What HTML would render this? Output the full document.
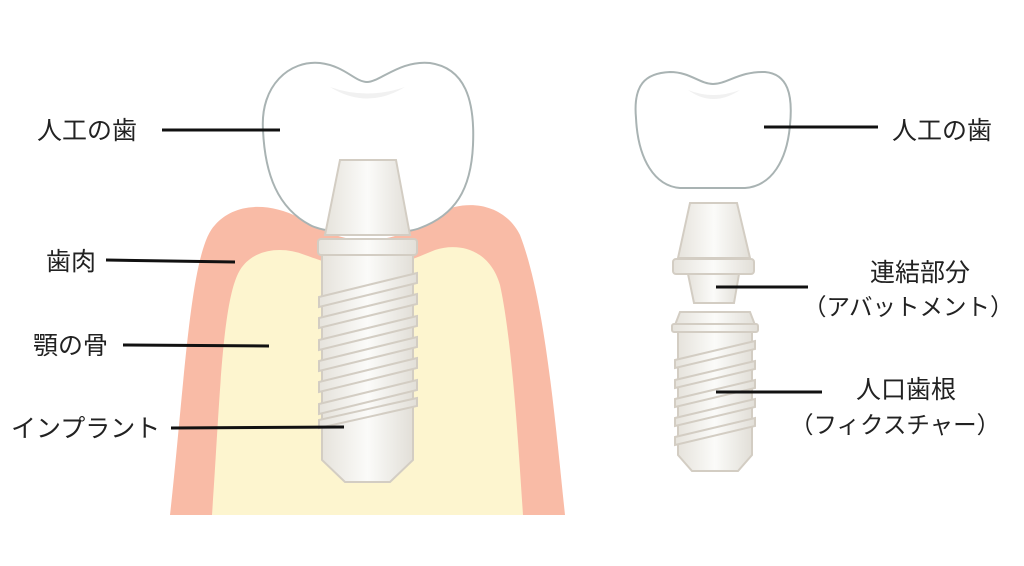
<!DOCTYPE html>
<html><head><meta charset="utf-8"><style>
html,body{margin:0;padding:0;background:#fff;}
svg{display:block;}
text{font-family:"Liberation Sans","Noto Sans CJK JP",sans-serif;font-size:25px;fill:#222;}
text.s{font-size:23.5px;}
</style></head><body>
<svg width="1024" height="566" viewBox="0 0 1024 566" xmlns="http://www.w3.org/2000/svg">
<defs>
<linearGradient id="m" x1="0" x2="1" y1="0" y2="0">
<stop offset="0" stop-color="#e6e3dc"/><stop offset="0.5" stop-color="#fbfbf9"/><stop offset="1" stop-color="#e2dfd8"/>
</linearGradient>
</defs>
<path d="M170 515 C185 380 190 250 215 225 C232 205 265 200 300 218 C320 228 335 240 367 240 C400 240 420 225 440 212 C470 198 505 205 520 235 C545 300 555 420 565 515 Z" fill="#f9bba6"/>
<path d="M212 515 C220 400 222 300 240 270 C252 250 280 245 305 255 C325 262 340 268 367 268 C395 268 415 258 435 250 C460 242 490 250 500 285 C512 340 518 440 523 515 Z" fill="#fdf5cf"/>
<path d="M263 130 C260 85 290 60 320 63 C345 66 355 82 367 82 C380 82 400 60 430 63 C465 68 475 100 473 145 C471 190 455 215 420 228 C400 236 330 236 310 225 C278 208 265 175 263 130 Z" fill="#fff" stroke="#a9b3b3" stroke-width="2"/>
<path d="M330 87 Q367 110 405 87 Q367 100 330 87 Z" fill="#f1f1f1"/>
<path d="M340 160 L396 160 L410 235 L325 235 Z" fill="url(#m)" stroke="#d3cdc3" stroke-width="2"/>
<rect x="318" y="239" width="99" height="16" rx="3" fill="url(#m)" stroke="#d3cdc3" stroke-width="2"/>
<path d="M322 255 L413 255 L413 460 L390 482 L345 482 L322 460 Z" fill="url(#m)" stroke="#d3cdc3" stroke-width="2"/>
<g fill="url(#m)" stroke="#d3cdc3" stroke-width="2">
<path d="M319 297 L417 273 L417 283 L319 307 Z"/>
<path d="M319 318 L417 294 L417 304 L319 328 Z"/>
<path d="M319 340 L417 316 L417 326 L319 350 Z"/>
<path d="M319 361 L417 337 L417 347 L319 371 Z"/>
<path d="M319 382 L417 358 L417 368 L319 392 Z"/>
<path d="M319 404 L417 380 L417 390 L319 414 Z"/>
<path d="M319 420 L417 398 L417 406 L319 428 Z"/>
</g>
<path d="M636 118 C633 85 645 73 670 72 C690 72 700 84 713 84 C727 84 740 71 765 72 C788 74 793 95 790 125 C787 160 772 186 745 188 L680 188 C655 186 638 160 636 118 Z" fill="#fff" stroke="#a9b3b3" stroke-width="2"/>
<path d="M688 90 Q713 108 740 90 Q713 100 688 90 Z" fill="#f1f1f1"/>
<path d="M690 203 L737 203 L750 258 L678 258 Z" fill="url(#m)" stroke="#d3cdc3" stroke-width="2"/>
<rect x="673" y="259" width="81" height="15" rx="3" fill="url(#m)" stroke="#d3cdc3" stroke-width="2"/>
<path d="M688 274 L739 274 L734 303 L694 303 Z" fill="url(#m)" stroke="#d3cdc3" stroke-width="2"/>
<path d="M680 312 L750 312 L755 325 L675 325 Z" fill="url(#m)" stroke="#d3cdc3" stroke-width="2"/>
<rect x="672" y="324" width="86" height="8" rx="2" fill="url(#m)" stroke="#d3cdc3" stroke-width="2"/>
<path d="M678 332 L752 332 L752 455 L738 471 L692 471 L678 455 Z" fill="url(#m)" stroke="#d3cdc3" stroke-width="2"/>
<g fill="url(#m)" stroke="#d3cdc3" stroke-width="2">
<path d="M675 360 L755 341 L755 349 L675 368 Z"/>
<path d="M675 380 L755 361 L755 369 L675 388 Z"/>
<path d="M675 399 L755 380 L755 388 L675 407 Z"/>
<path d="M675 418 L755 399 L755 407 L675 426 Z"/>
<path d="M675 437 L755 418 L755 426 L675 445 Z"/>
</g>
<g stroke="#111" stroke-width="3">
<line x1="162" y1="130" x2="280" y2="130"/>
<line x1="106" y1="260" x2="235" y2="262"/>
<line x1="123" y1="345" x2="269" y2="346"/>
<line x1="171" y1="428" x2="344" y2="427"/>
<line x1="764" y1="127" x2="878" y2="127"/>
<line x1="716" y1="287" x2="808" y2="287"/>
<line x1="716" y1="392" x2="822" y2="392"/>
</g>
<text x="37" y="139">人工の歯</text>
<text x="46" y="270">歯肉</text>
<text x="33" y="354">顎の骨</text>
<text x="11" y="437">インプラント</text>
<text x="892" y="139">人工の歯</text>
<text x="870" y="281">連結部分</text>
<text class="s" x="803" y="315">（アバットメント）</text>
<text x="856" y="398">人口歯根</text>
<text class="s" x="790" y="433">（フィクスチャー）</text>
</svg>
</body></html>
